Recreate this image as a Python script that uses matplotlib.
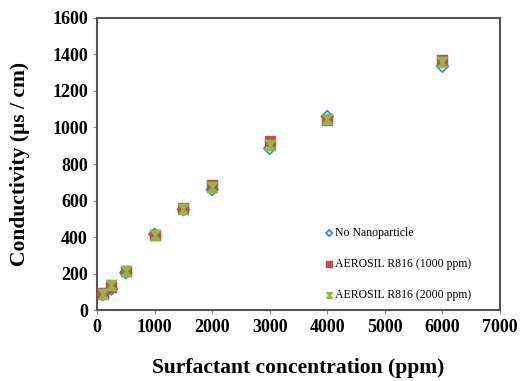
import numpy as np
import matplotlib.pyplot as plt
from matplotlib.path import Path

# Datos
conc = [100, 250, 500, 1000, 1500, 2000, 3000, 4000, 6000]
no_nano = [85, 115, 205, 415, 550, 660, 885, 1060, 1335]
r816_1000 = [95, 125, 215, 410, 560, 685, 925, 1040, 1370]
r816_2000 = [90, 135, 215, 410, 555, 675, 905, 1045, 1360]

plt.rcParams['font.family'] = 'Liberation Serif'

# marcador tipo reloj de arena (como el "x" de Excel)
hourglass = Path([(-1, 1), (1, 1), (0.15, 0), (1, -1), (-1, -1), (-0.15, 0), (-1, 1)],
                 [Path.MOVETO] + [Path.LINETO] * 5 + [Path.CLOSEPOLY])

fig = plt.figure(figsize=(5.2, 3.81), dpi=100)
ax = fig.add_axes([0.1865, 0.186, 0.775, 0.767])

ax.scatter(conc, no_nano, marker='D', s=35, facecolors='none', edgecolors='#4a86d4',
           linewidths=1.3, label='No Nanoparticle', zorder=3)
ax.scatter(conc, r816_1000, marker='s', s=60, color='#c94a4a',
           label='AEROSIL R816 (1000 ppm)', zorder=4)
ax.scatter(conc, r816_2000, marker=hourglass, s=55, color='#8db84a',
           label='AEROSIL R816 (2000 ppm)', zorder=5)

ax.set_xlim(0, 7000)
ax.set_ylim(0, 1600)
ax.set_xticks(range(0, 7001, 1000))
ax.set_yticks(range(0, 1601, 200))
ax.tick_params(labelsize=13, length=3, color='#888888')
for lab in ax.get_xticklabels() + ax.get_yticklabels():
    lab.set_fontweight('bold')
for s in ax.spines.values():
    s.set_color('#555555')
    s.set_linewidth(1.5)

ax.set_xlabel('Surfactant concentration (ppm)', fontsize=15.5, fontweight='bold', labelpad=16)
ax.set_ylabel('Conductivity (\u00b5s / cm)', fontsize=15.5, fontweight='bold', labelpad=16)

ax.legend(loc='lower left', bbox_to_anchor=(0.535, -0.005), frameon=False, fontsize=8.5,
          handletextpad=0.0, labelspacing=1.6, markerscale=0.55, handlelength=1.0)

plt.savefig('out.png', dpi=100)
